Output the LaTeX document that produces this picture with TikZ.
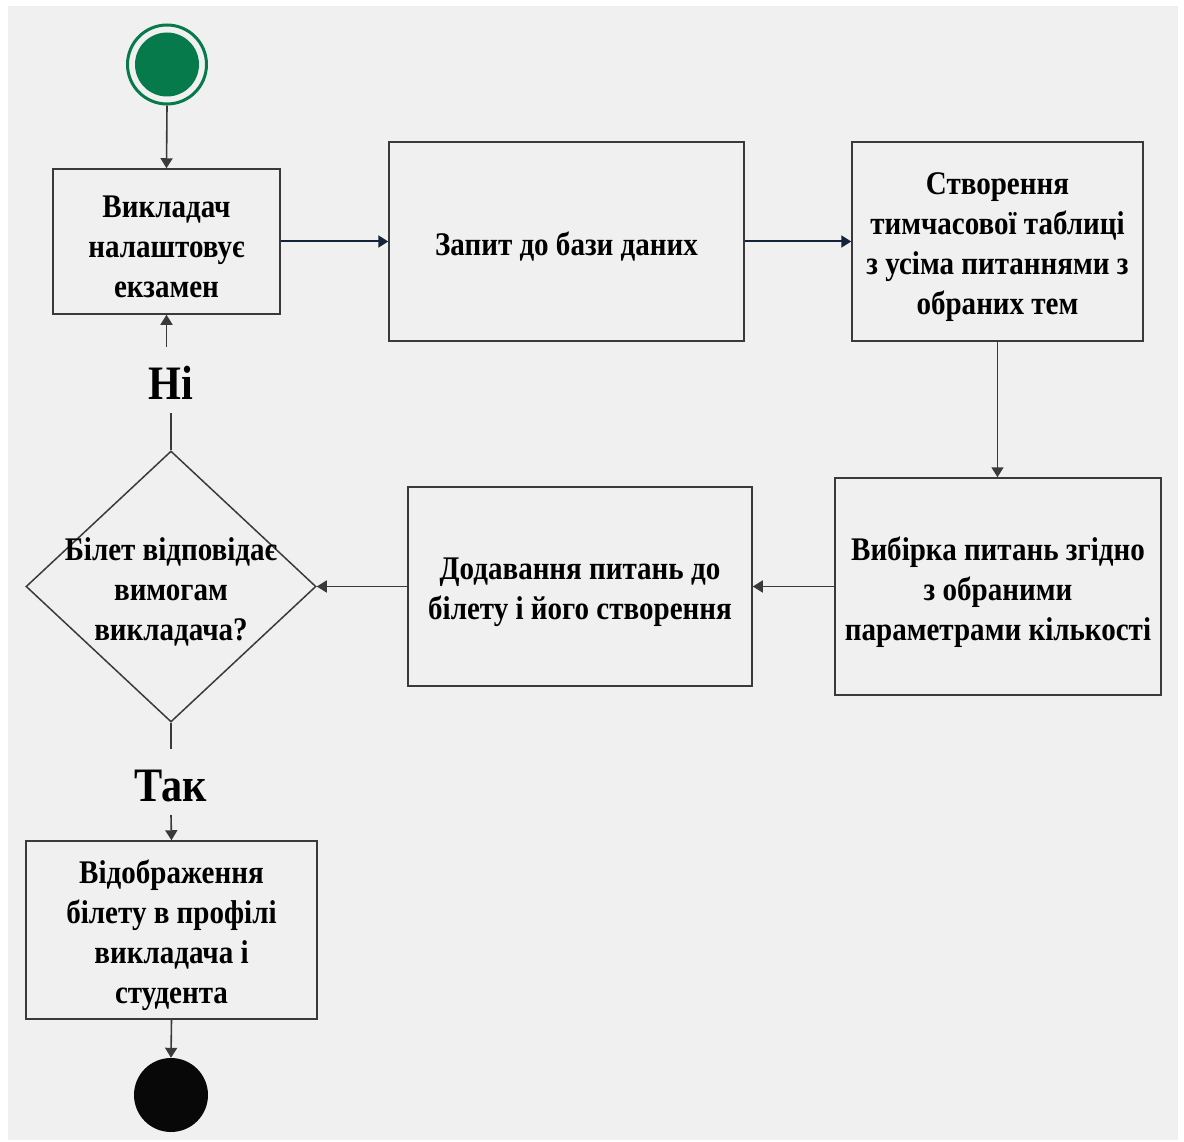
\documentclass[tikz,border=0pt]{standalone}
\usepackage{fontspec}
\setmainfont{Liberation Serif}[FakeStretch=0.88]
\usetikzlibrary{arrows.meta,shapes.geometric,calc}

\definecolor{paper}{HTML}{F0F0F0}
\definecolor{startgreen}{HTML}{077A4B}
\definecolor{navy}{HTML}{14233A}
\definecolor{edge}{HTML}{3A3A3A}

\tikzset{
  stepbox/.style={draw=edge, line width=1.5pt, fill=paper, inner sep=0pt},
  txt/.style={align=center, font=\bfseries\fontsize{33}{40}\selectfont, inner sep=0pt, yshift=-5.5pt},
  answer/.style={font=\bfseries\fontsize{48}{52}\selectfont, inner sep=0pt},
  arr/.style={draw=edge, line width=1.6pt, -{Triangle[length=10pt,width=12pt]}},
  navyarr/.style={arr, draw=navy, line width=2pt},
  plain/.style={draw=edge, line width=1.5pt},
}

\begin{document}
\begin{tikzpicture}[x=1pt,y=-1pt]
  \useasboundingbox (0,0) rectangle (1184,1142);
  \fill[white] (0,0) rectangle (1184,1142);
  \fill[paper] (8,6) rectangle (1178,1140);

  % initial state
  \node[circle, draw=startgreen, line width=3pt, fill=paper, minimum size=79pt, inner sep=0pt] (s) at (167,64.5) {};
  \node[circle, fill=startgreen, minimum size=64pt, inner sep=0pt] at (s.center) {};

  % activities
  \node[stepbox, minimum width=227pt, minimum height=145pt] (b1) at (166.5,241.5) {};
  \node[txt] at (b1.center) {Викладач\\налаштовує\\екзамен};
  \node[stepbox, minimum width=355pt, minimum height=199pt] (b2) at (566.5,241.5) {};
  \node[txt] at (b2.center) {Запит до бази даних};
  \node[stepbox, minimum width=291pt, minimum height=199pt] (b3) at (997.5,241.5) {};
  \node[txt] at (b3.center) {Створення\\тимчасової таблиці\\з усіма питаннями з\\обраних тем};
  \node[stepbox, minimum width=326pt, minimum height=217pt] (b4) at (998,586.5) {};
  \node[txt] at (b4.center) {Вибірка питань згідно\\з обраними\\параметрами кількості};
  \node[stepbox, minimum width=344pt, minimum height=199pt] (b5) at (580,586.5) {};
  \node[txt] at (b5.center) {Додавання питань до\\білету і його створення};

  % decision
  \node[diamond, draw=edge, line width=1.5pt, fill=paper, minimum width=290pt, minimum height=271pt, inner sep=0pt] (d) at (171,586.5) {};
  \node[txt] (dq) at (d.center) {Білет відповідає\\вимогам\\викладача?};

  \node[stepbox, minimum width=291pt, minimum height=178pt] (b6) at (171.5,930) {};
  \node[txt] at (b6.center) {Відображення\\білету в профілі\\викладача і\\студента};

  % final state
  \node[circle, fill=black!97, minimum size=74pt, inner sep=0pt] (e) at (171,1095) {};

  % guard labels and the ends of their connector pieces
  \node[answer] (no) at (171,383) {Ні};
  \node[answer] (yes) at (171,786) {Так};
  \coordinate (noTop) at (166.5,347);
  \coordinate (noBot) at (171,413);
  \coordinate (yesTop) at (171,749);
  \coordinate (yesBot) at (171,815);

  % flow
  \draw[arr] (s.south) -- (b1.north);
  \draw[navyarr] (b1.east) -- (b2.west);
  \draw[navyarr] (b2.east) -- (b3.west);
  \draw[arr] (b3.south) -- (b3.south |- b4.north);
  \draw[arr] (b4.west) -- (b5.east);
  \draw[arr] (b5.west) -- (d.east);
  \draw[plain] (d.north) -- (noBot);
  \draw[arr] (noTop) -- (b1.south);
  \draw[plain] (d.south) -- (yesTop);
  \draw[arr] (yesBot) -- (b6.north);
  \draw[arr] (b6.south) -- (e.north);
\end{tikzpicture}
\end{document}
